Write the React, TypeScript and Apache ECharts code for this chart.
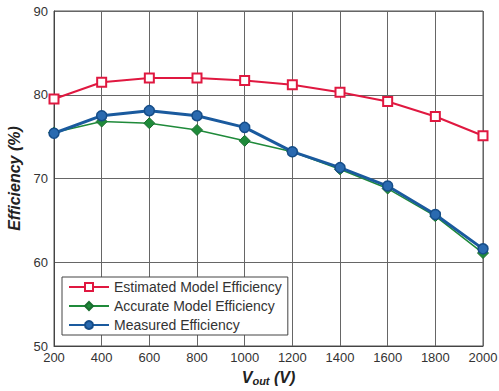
import React, { useEffect, useRef } from "react";
import * as echarts from "echarts";

const vout = [200, 400, 600, 800, 1000, 1200, 1400, 1600, 1800, 2000];
const estimated = [79.5, 81.5, 82.0, 82.0, 81.7, 81.2, 80.3, 79.2, 77.4, 75.1];
const accurate = [75.5, 76.8, 76.6, 75.8, 74.5, 73.2, 71.1, 68.8, 65.5, 61.1];
const measured = [75.4, 77.5, 78.1, 77.5, 76.1, 73.2, 71.3, 69.1, 65.7, 61.6];
const seriesNames = ["Estimated Model Efficiency", "Accurate Model Efficiency", "Measured Efficiency"];

const pair = (ys: number[]) => vout.map((x, i) => [x, ys[i]]);

export default function App() {
  const ref = useRef<HTMLDivElement>(null);
  useEffect(() => {
    const chart = echarts.init(ref.current!, null, { renderer: "svg" });
    const font = "Liberation Sans, Arial, sans-serif";
    chart.setOption({
      animation: false,
      backgroundColor: "#fff",
      textStyle: { fontFamily: font },
      grid: {
        left: 54, right: 16, top: 11, bottom: 45,
        show: true, borderColor: "#555", borderWidth: 1,
        containLabel: false, outerBoundsMode: "none",
      },
      xAxis: {
        type: "value",
        min: 200,
        max: 2000,
        interval: 200,
        axisLine: { show: true, lineStyle: { color: "#444" } },
        axisTick: { show: false },
        splitLine: { show: true, lineStyle: { color: "#666", width: 1 } },
        axisLabel: { color: "#333", fontSize: 13, margin: 5, fontFamily: font, formatter: (v: number) => String(v) },
        name: "{v|V}{s|out}{v| (V)}",
        nameLocation: "middle",
        nameGap: 22,
        nameTextStyle: {
          rich: {
            v: { fontSize: 16, fontWeight: "bold", fontStyle: "italic", color: "#222", fontFamily: font, lineHeight: 18 },
            s: { fontSize: 11, fontWeight: "bold", fontStyle: "italic", color: "#222", fontFamily: font, verticalAlign: "bottom", lineHeight: 18, padding: [6, 0, 0, 0] },
          },
        },
      },
      yAxis: {
        type: "value",
        min: 50,
        max: 90,
        interval: 10,
        axisLine: { show: true, lineStyle: { color: "#444" } },
        axisTick: { show: false },
        splitLine: { show: true, lineStyle: { color: "#666", width: 1 } },
        axisLabel: { color: "#333", fontSize: 13, margin: 6, fontFamily: font },
        name: "Efficiency (%)",
        nameLocation: "middle",
        nameGap: 30,
        nameTextStyle: { fontSize: 16, fontWeight: "bold", fontStyle: "italic", color: "#222", fontFamily: font },
      },
      legend: {
        orient: "vertical",
        left: 62,
        top: 277,
        data: seriesNames,
        backgroundColor: "#fff",
        borderColor: "#444",
        borderWidth: 1,
        borderRadius: 0,
        padding: [3, 6, 3, 6],
        itemGap: 5,
        itemWidth: 40,
        itemHeight: 10,
        textStyle: { fontSize: 14, color: "#333", fontFamily: font },
      },
      series: [
        {
          name: seriesNames[0],
          type: "line",
          data: pair(estimated),
          symbol: "rect",
          symbolSize: 9,
          lineStyle: { color: "#e01840", width: 2 },
          itemStyle: { color: "#fff", borderColor: "#e01840", borderWidth: 2 },
          z: 3,
        },
        {
          name: seriesNames[1],
          type: "line",
          data: pair(accurate),
          symbol: "diamond",
          symbolSize: 11,
          lineStyle: { color: "#1f8a3a", width: 1.5 },
          itemStyle: { color: "#1f8a3a", borderColor: "#1a6e30", borderWidth: 1 },
          z: 4,
        },
        {
          name: seriesNames[2],
          type: "line",
          data: pair(measured),
          symbol: "circle",
          symbolSize: 10,
          lineStyle: { color: "#1a5a9e", width: 3 },
          itemStyle: { color: "#2a6ab0", borderColor: "#164d88", borderWidth: 1.5 },
          z: 5,
        },
      ],
    });
    return () => chart.dispose();
  }, []);
  return <div ref={ref} style={{ width: 499, height: 391, position: "absolute", left: 0, top: 0 }} />;
}
